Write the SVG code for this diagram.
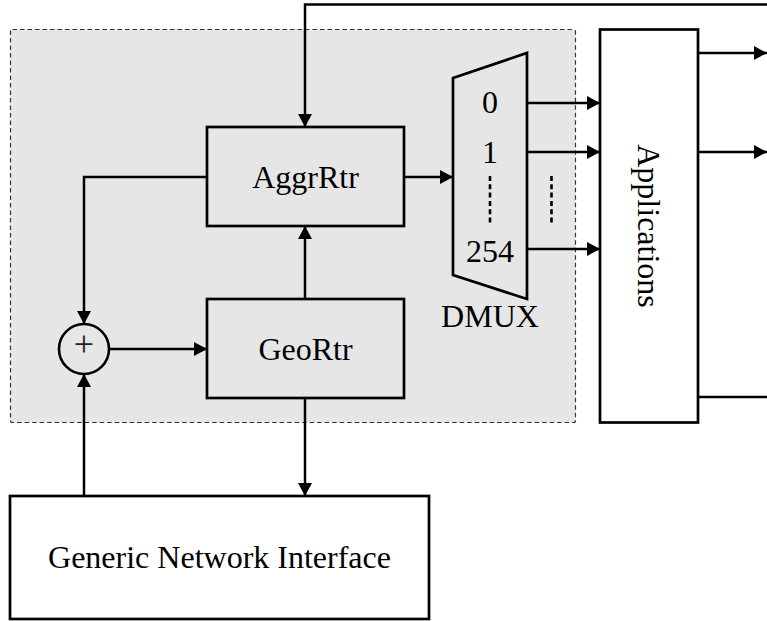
<svg xmlns="http://www.w3.org/2000/svg" width="767" height="621" viewBox="0 0 767 621">
<style>
  .box { fill: #e6e6e6; stroke: #000; stroke-width: 2.7; }
  .wbox { fill: #ffffff; stroke: #000; stroke-width: 2.7; }
  .lbl { font-family: "Liberation Serif", "Times New Roman", serif; font-size: 32px; fill: #000; text-anchor: middle; }
  .wire { fill: none; stroke: #000; stroke-width: 2.5; }
  .arr { marker-end: url(#ah); }
  .dots { fill: none; stroke: #000; stroke-width: 2.6; stroke-dasharray: 5 3.3; }
</style>
<defs>
  <marker id="ah" markerUnits="userSpaceOnUse" markerWidth="14" markerHeight="15" refX="13" refY="7" orient="auto">
    <path d="M0,0 L13,7 L0,14 Z" fill="#000"/>
  </marker>
</defs>
<rect width="767" height="621" fill="#ffffff"/>

<g id="router-group">
  <rect x="10.5" y="29.5" width="565" height="393" rx="2" fill="#e6e6e6" stroke="#333" stroke-width="1.2" stroke-dasharray="4.5 3"/>
</g>

<g id="connectors">
  <path class="wire arr" d="M767,4.5 H305 V127"/>
  <path class="wire arr" d="M207,177 H84 V324"/>
  <path class="wire arr" d="M84,496 V374"/>
  <path class="wire arr" d="M109,349 H207"/>
  <path class="wire arr" d="M305,299 V226"/>
  <path class="wire arr" d="M305,398 V496"/>
  <path class="wire arr" d="M404,177 H453"/>
  <path class="wire arr" d="M527,103 H600"/>
  <path class="wire arr" d="M527,152 H600"/>
  <path class="wire arr" d="M527,249 H600"/>
  <path class="wire arr" d="M698,53 H767"/>
  <path class="wire arr" d="M698,152 H767"/>
  <path class="wire" d="M698,397 H767"/>
  <path class="dots" d="M551.5,176 V223"/>
</g>

<g id="aggrrtr">
  <rect class="box" x="207" y="127" width="197" height="99"/>
  <text class="lbl" x="305.5" y="188">AggrRtr</text>
</g>

<g id="geortr">
  <rect class="box" x="207" y="299" width="197" height="99"/>
  <text class="lbl" x="305.5" y="360">GeoRtr</text>
</g>

<g id="sum">
  <circle cx="84" cy="349" r="25" fill="#e6e6e6" stroke="#000" stroke-width="2.6"/>
  <text x="84" y="356" font-family="Liberation Serif, serif" font-size="36" fill="#222" text-anchor="middle">+</text>
</g>

<g id="dmux">
  <polygon class="box" points="453,78 527,53 527,299 453,275"/>
  <text class="lbl" x="490" y="113">0</text>
  <text class="lbl" x="490" y="163">1</text>
  <path class="dots" d="M490,176 V223"/>
  <text class="lbl" x="490" y="262">254</text>
  <text class="lbl" x="490" y="327">DMUX</text>
</g>

<g id="applications">
  <rect class="wbox" x="600" y="29.5" width="98" height="393"/>
  <text class="lbl" transform="translate(638,226) rotate(90)" x="0" y="0">Applications</text>
</g>

<g id="gni">
  <rect class="wbox" x="10" y="496" width="419" height="123"/>
  <text class="lbl" x="219.5" y="568">Generic Network Interface</text>
</g>
</svg>
